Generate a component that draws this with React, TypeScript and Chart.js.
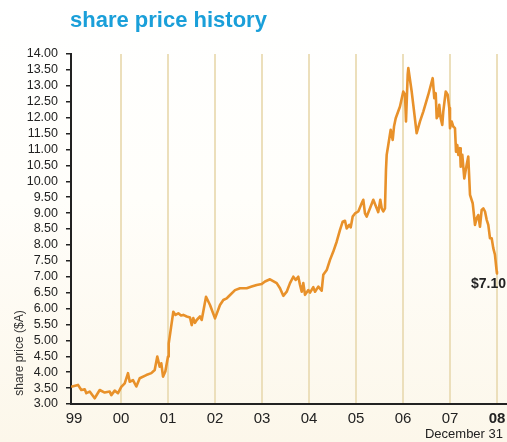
import React, { useEffect, useRef } from "react";
import { Chart, registerables } from "chart.js";

Chart.register(...registerables);

const TITLE = "share price history";
const Y_TITLE = "share price ($A)";
const END_NOTE = "December 31";
const LAST_LABEL = "$7.10";

const YEAR_TICKS = [1999, 2000, 2001, 2002, 2003, 2004, 2005, 2006, 2007, 2008];

const dates = [
  1998.94, 1999.085, 1999.155, 1999.228, 1999.262, 1999.334, 1999.44, 1999.547, 1999.653, 1999.76,
  1999.794, 1999.866, 1999.936, 2000.006, 2000.079, 2000.149, 2000.185, 2000.255, 2000.326, 2000.398,
  2000.538, 2000.645, 2000.717, 2000.772, 2000.823, 2000.857, 2000.894, 2000.943, 2001.0, 2001.015,
  2001.064, 2001.113, 2001.16, 2001.219, 2001.277, 2001.326, 2001.398, 2001.468, 2001.504, 2001.538,
  2001.574, 2001.611, 2001.681, 2001.717, 2001.809, 2001.894, 2002.0, 2002.106, 2002.177, 2002.249,
  2002.283, 2002.426, 2002.532, 2002.674, 2002.781, 2002.887, 2002.994, 2003.064, 2003.17, 2003.313,
  2003.383, 2003.453, 2003.526, 2003.596, 2003.666, 2003.717, 2003.772, 2003.809, 2003.845, 2003.879,
  2003.915, 2003.985, 2004.021, 2004.091, 2004.128, 2004.198, 2004.27, 2004.304, 2004.377, 2004.447,
  2004.517, 2004.589, 2004.66, 2004.717, 2004.766, 2004.802, 2004.857, 2004.887, 2004.93, 2004.979,
  2005.049, 2005.121, 2005.155, 2005.191, 2005.228, 2005.298, 2005.368, 2005.44, 2005.474, 2005.517,
  2005.547, 2005.581, 2005.617, 2005.638, 2005.653, 2005.687, 2005.738, 2005.781, 2005.809, 2005.845,
  2005.936, 2006.006, 2006.043, 2006.064, 2006.1, 2006.113, 2006.185, 2006.219, 2006.291, 2006.362,
  2006.432, 2006.538, 2006.632, 2006.666, 2006.696, 2006.717, 2006.751, 2006.772, 2006.802, 2006.836,
  2006.857, 2006.909, 2006.951, 2006.985, 2007.0, 2007.036, 2007.07, 2007.106, 2007.128, 2007.155,
  2007.177, 2007.213, 2007.228, 2007.262, 2007.304, 2007.355, 2007.389, 2007.426, 2007.483, 2007.532,
  2007.568, 2007.602, 2007.638, 2007.674, 2007.709, 2007.745, 2007.781, 2007.815, 2007.851, 2007.887,
  2007.921, 2007.957, 2007.994, 2008.0,
];

const prices = [
  3.54, 3.6, 3.44, 3.46, 3.34, 3.39, 3.18, 3.44, 3.36, 3.39,
  3.28, 3.42, 3.34, 3.54, 3.65, 3.97, 3.7, 3.75, 3.55, 3.81,
  3.91, 3.97, 4.07, 4.49, 4.17, 4.28, 3.86, 4.02, 4.49, 4.9,
  5.4, 5.9, 5.8, 5.85, 5.78, 5.8, 5.75, 5.72, 5.48, 5.7,
  5.55, 5.64, 5.75, 5.64, 6.37, 6.11, 5.69, 6.11, 6.27, 6.32,
  6.37, 6.58, 6.64, 6.64, 6.69, 6.74, 6.77, 6.85, 6.92, 6.8,
  6.64, 6.4, 6.53, 6.8, 7.0, 6.9, 7.0, 6.74, 6.53, 6.8,
  6.43, 6.58, 6.5, 6.67, 6.53, 6.69, 6.56, 7.06, 7.21, 7.53,
  7.79, 8.1, 8.47, 8.73, 8.76, 8.52, 8.63, 8.55, 8.89, 8.99,
  9.05, 9.31, 9.42, 8.99, 8.89, 9.15, 9.42, 9.15, 9.03, 9.42,
  9.15, 9.05, 9.15, 10.36, 10.83, 11.14, 11.62, 11.3, 11.72, 11.98,
  12.35, 12.82, 12.72, 11.88, 13.35, 13.56, 12.82, 12.4, 11.51, 11.88,
  12.19, 12.72, 13.24, 12.61, 12.77, 11.98, 12.08, 12.4, 11.98, 11.77,
  12.19, 12.82, 12.72, 12.3, 11.67, 11.88, 11.72, 11.67, 10.93, 11.14,
  10.83, 11.04, 10.46, 10.83, 10.09, 10.52, 10.78, 9.57, 9.31, 8.63,
  8.84, 8.94, 8.57, 9.1, 9.15, 9.05, 8.79, 8.63, 8.21, 8.21,
  7.9, 7.69, 7.16, 7.1,
];

const FONT = "'Liberation Sans', Arial, sans-serif";

const decorPlugin = {
  id: "decor",
  beforeDraw(chart: any) {
    const { ctx, width, height } = chart;
    ctx.save();
    const g = ctx.createLinearGradient(0, 0, 0, height);
    g.addColorStop(0, "#ffffff");
    g.addColorStop(0.45, "#fffefa");
    g.addColorStop(1, "#fcf7ea");
    ctx.fillStyle = g;
    ctx.fillRect(0, 0, width, height);
    ctx.restore();
  },
  afterDraw(chart: any) {
    const { ctx, scales } = chart;
    ctx.save();
    ctx.font = `bold 22px ${FONT}`;
    ctx.fillStyle = "#1a9fd9";
    ctx.textAlign = "left";
    ctx.textBaseline = "alphabetic";
    ctx.fillText(TITLE, 70, 27);
    ctx.save();
    ctx.translate(20, 353);
    ctx.rotate(-Math.PI / 2);
    ctx.font = `12px ${FONT}`;
    ctx.fillStyle = "#333";
    ctx.textAlign = "center";
    ctx.textBaseline = "middle";
    ctx.fillText(Y_TITLE, 0, 0);
    ctx.restore();
    ctx.font = `13px ${FONT}`;
    ctx.fillStyle = "#222";
    ctx.textAlign = "right";
    ctx.textBaseline = "middle";
    ctx.fillText(END_NOTE, 503, 434);
    const lx = scales.x.getPixelForValue(dates[dates.length - 1]);
    const ly = scales.y.getPixelForValue(prices[prices.length - 1]);
    ctx.font = `bold 14px ${FONT}`;
    ctx.textAlign = "left";
    ctx.textBaseline = "middle";
    ctx.fillStyle = "#222";
    ctx.fillText(LAST_LABEL, lx - 26, ly + 11);
    ctx.restore();
  },
};

export default function App() {
  const ref = useRef<HTMLCanvasElement>(null);
  useEffect(() => {
    if (!ref.current) return;
    const points = dates.map((d, i) => ({ x: d, y: prices[i] }));
    const chart = new Chart(ref.current, {
      type: "line",
      data: {
        datasets: [
          {
            data: points,
            borderColor: "#e8912a",
            borderWidth: 2.6,
            pointRadius: 0,
            tension: 0,
            borderJoinStyle: "round",
          },
        ],
      },
      options: {
        animation: false,
        responsive: false,
        maintainAspectRatio: false,
        layout: { padding: { top: 54, left: 0, right: 0, bottom: 0 } },
        plugins: { legend: { display: false }, tooltip: { enabled: false }, title: { display: false } },
        scales: {
          x: {
            type: "linear",
            min: 1998.936,
            max: 2008.213,
            afterBuildTicks: (s: any) => {
              s.ticks = YEAR_TICKS.map((v) => ({ value: v }));
            },
            afterFit: (s: any) => {
              s.height = 38;
              s.paddingLeft = 0;
              s.paddingRight = 0;
            },
            grid: {
              drawTicks: false,
              lineWidth: 2,
              color: (c: any) => (c.tick && c.tick.value === 1999 ? "rgba(0,0,0,0)" : "#ecdfbb"),
            },
            border: { display: true, color: "#222", width: 2 },
            ticks: {
              autoSkip: false,
              maxRotation: 0,
              padding: 6,
              color: "#222",
              font: (c: any) => ({
                family: FONT,
                size: 15,
                weight: c.tick && c.tick.value === 2008 ? "bold" : "normal",
              }),
              callback: (v: any) => String(Number(v) % 100).padStart(2, "0"),
            },
          },
          y: {
            min: 3,
            max: 14,
            afterFit: (s: any) => {
              s.width = 71;
              s.paddingTop = 0;
              s.paddingBottom = 0;
            },
            grid: {
              drawOnChartArea: false,
              drawTicks: true,
              tickLength: 5,
              color: "#222",
              lineWidth: 1.5,
            },
            border: { display: true, color: "#222", width: 2 },
            ticks: {
              stepSize: 0.5,
              autoSkip: false,
              padding: 8,
              color: "#222",
              font: { family: FONT, size: 12.5 },
              callback: (v: any) => Number(v).toFixed(2),
            },
          },
        },
      },
      plugins: [decorPlugin],
    } as any);
    return () => chart.destroy();
  }, []);
  return (
    <canvas
      ref={ref}
      width={507}
      height={442}
      style={{ position: "fixed", left: 0, top: 0, width: 507, height: 442 }}
    />
  );
}
